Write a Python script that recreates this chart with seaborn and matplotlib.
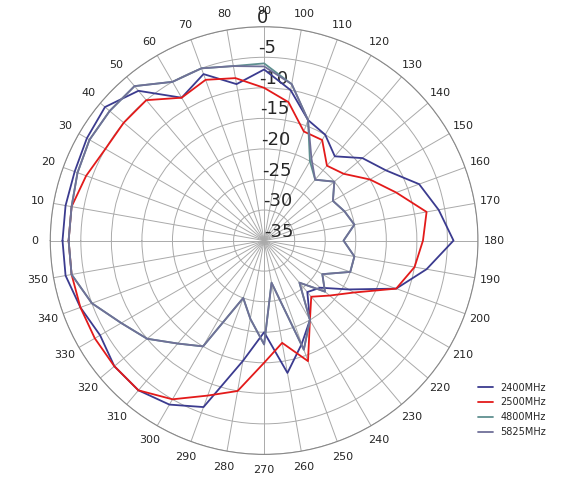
import numpy as np
import matplotlib
matplotlib.use("Agg")
import matplotlib.pyplot as plt
import seaborn as sns

sns.set_style("white")

angles_deg = list(range(0, 361, 10))
s2400 = [-2, -2, -2, -1.5, -1, -3, -8, -6, -9, -7, -10, -14, -15, -17, -14, -12, -8, -6, -4,
         -8, -12, -19, -23, -24, -20, -17, -13, -20, -15, -6, -4, -3, -3, -4, -3, -2, -2]
s2500 = [-3, -3, -4, -5, -5, -5, -8, -7, -8, -10, -12, -16, -16, -19, -18, -15, -12, -8, -9,
         -10, -12, -18, -21, -23, -20, -14, -18, -15, -10, -8, -5, -3, -3, -3, -3, -3, -3]
s4800 = [-3, -3, -2.5, -2, -2, -2, -5, -5, -6, -6, -9, -14, -20, -22, -20, -22, -21, -20, -22,
         -20, -20, -24, -22, -26, -20, -16, -28, -18, -22, -25, -15, -13, -10, -8, -5, -3, -3]
s5825 = [-3, -3, -2.5, -2, -2, -2, -5, -5, -6, -6.5, -9, -14, -19.5, -22, -20, -22, -21, -20, -22,
         -20, -20, -24, -22, -26, -20, -16, -28, -18, -22, -25, -15, -13, -10, -8, -5, -3, -3]

series = [("2400MHz", s2400, "#3b3b8f"), ("2500MHz", s2500, "#e31a1a"),
          ("4800MHz", s4800, "#5f9090"), ("5825MHz", s5825, "#707098")]

fig = plt.figure(figsize=(5.68, 4.86), dpi=100)
ax = fig.add_axes([0.04, 0.065, 0.85, 0.88], projection="polar")
ax.set_theta_zero_location("W")
ax.set_theta_direction(-1)
th = np.deg2rad(angles_deg)
for name, vals, c in series:
    ax.plot(th, vals, color=c, lw=1.3, label=name)

ax.set_ylim(-35, 0)
ax.set_yticks(range(-35, 1, 5))
ax.set_yticklabels([str(v) for v in range(-35, 1, 5)], fontsize=13)
ax.set_rlabel_position(88)
ax.set_xticks(np.deg2rad(range(0, 360, 10)))
ax.set_xticklabels([str(a) for a in range(0, 360, 10)], fontsize=8)
ax.tick_params(axis="x", pad=1)
ax.grid(color="#aaaaaa", lw=0.7)
ax.spines["polar"].set_color("#888888")
ax.legend(loc="lower left", bbox_to_anchor=(0.98, 0.02), frameon=False, fontsize=7,
          handlelength=1.5)
fig.savefig("out.png", dpi=100)
